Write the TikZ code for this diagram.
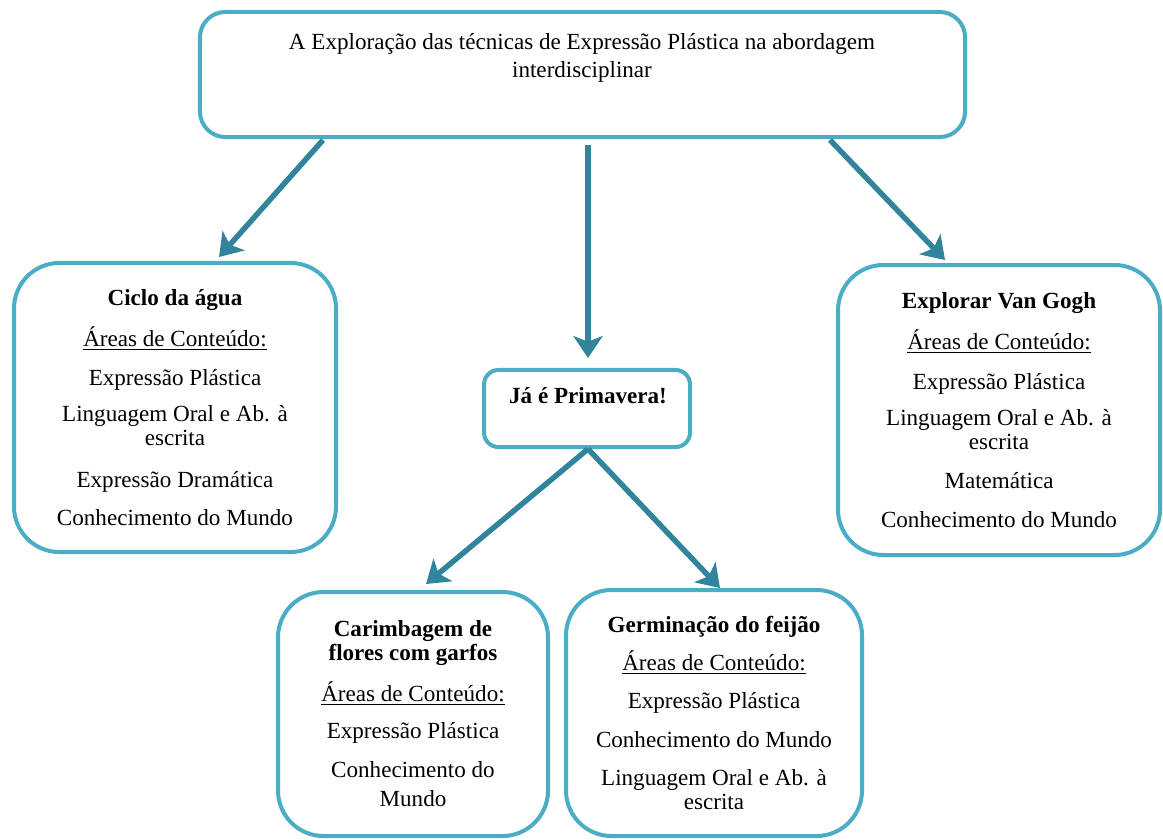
\documentclass[tikz,border=0pt]{standalone}
\usepackage{fontspec}
\setmainfont{Liberation Serif}
\usepackage{tikz}
\usetikzlibrary{arrows.meta,positioning}
\definecolor{borda}{HTML}{4BACC6}
\definecolor{seta}{HTML}{31849B}

\tikzset{
  caixa/.style={draw=borda,line width=2.2pt,rounded corners=25pt,align=center,
    font=\fontsize{12.7}{13.2}\selectfont,inner sep=0pt},
  texto/.style={align=center,font=\fontsize{12.7}{13.2}\selectfont,inner sep=0pt},
  ligacao/.style={draw=seta,line width=3pt,-{Stealth[length=12pt,width=16pt,inset=3pt]}}
}

\begin{document}
\begin{tikzpicture}[x=0.55pt,y=-0.55pt]
  \useasboundingbox (0,0) rectangle (1163,839);
  % caixa principal
  \node[caixa,rounded corners=14pt,minimum width=420.8pt,minimum height=68.8pt] (topo) at (582.5,74.5) {};
  \node[texto,font=\fontsize{12.7}{15.4}\selectfont] (titulo) at (582,58)
    {A Exploração das técnicas de Expressão Plástica na abordagem\\interdisciplinar};
  % projetos
  \node[caixa,minimum width=177.1pt,minimum height=159pt] (ciclo) at (175,407.5)
    {\textbf{Ciclo da água}\\[8pt]\underline{Áreas de Conteúdo:}\\[8.5pt]Expressão Plástica\\[6.5pt]
     Linguagem Oral e Ab. à\\escrita\\[9.5pt]Expressão Dramática\\[8pt]Conhecimento do Mundo};
  \node[caixa,minimum width=177.1pt,minimum height=159.5pt] (vangogh) at (999,410)
    {\textbf{Explorar Van Gogh}\\[8pt]\underline{Áreas de Conteúdo:}\\[8.5pt]Expressão Plástica\\[6.5pt]
     Linguagem Oral e Ab. à\\escrita\\[8.5pt]Matemática\\[8pt]Conhecimento do Mundo};
  \node[caixa,rounded corners=8pt,minimum width=113.3pt,minimum height=42.4pt] (primavera) at (587,408.5) {};
  \node[texto] (primaveratxt) at (588,396) {\textbf{Já é Primavera!}};
  \node[caixa,minimum width=148.5pt,minimum height=134.2pt] (carimbagem) at (413,714)
    {\textbf{Carimbagem de}\\\textbf{flores com garfos}\\[7.5pt]\underline{Áreas de Conteúdo:}\\[7.5pt]
     Expressão Plástica\\[8pt]Conhecimento do\\[3pt]Mundo};
  \node[caixa,minimum width=162.8pt,minimum height=135.3pt] (feijao) at (714,713)
    {\textbf{Germinação do feijão}\\[6pt]\underline{Áreas de Conteúdo:}\\[8pt]Expressão Plástica\\[8pt]
     Conhecimento do Mundo\\[7.5pt]Linguagem Oral e Ab. à\\escrita};
  % pontos de partida das setas
  \coordinate (s1) at (323,140);
  \coordinate (s2) at (588,145);
  \coordinate (s3) at (830,140);
  \coordinate (s4) at (588,449);
  \coordinate (e1) at (219,257);
  \coordinate (e2) at (588,358);
  \coordinate (e3) at (945,260);
  \coordinate (e4) at (426,584);
  \coordinate (e5) at (720,588);
  \draw[ligacao] (s1) -- (e1);
  \draw[ligacao] (s2) -- (e2);
  \draw[ligacao] (s3) -- (e3);
  \draw[ligacao] (s4) -- (e4);
  \draw[ligacao] (s4) -- (e5);
\end{tikzpicture}
\end{document}
